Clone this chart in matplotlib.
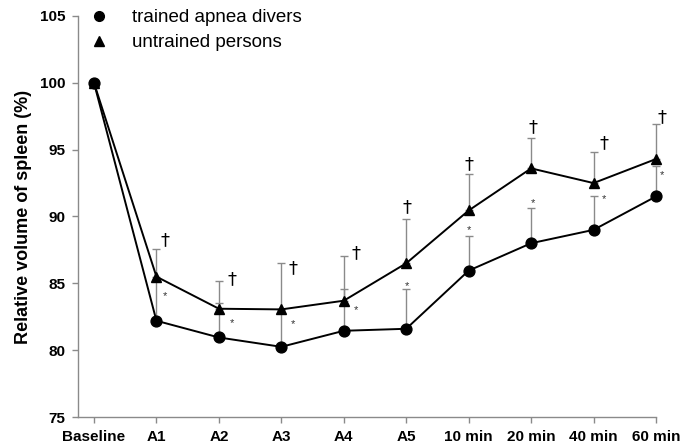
import numpy as np
import matplotlib
matplotlib.use("Agg")
import matplotlib.pyplot as plt
from matplotlib.lines import Line2D
from matplotlib.transforms import offset_copy

plt.rcParams['font.family'] = ['Liberation Sans', 'DejaVu Sans']

# dados
labels = ['Baseline', 'A1', 'A2', 'A3', 'A4', 'A5', '10 min', '20 min', '40 min', '60 min']
trained = [100, 82.2, 80.95, 80.25, 81.45, 81.6, 85.95, 88.0, 89.0, 91.5]
trained_err = [0, 3.1, 2.6, 2.75, 3.15, 3.0, 2.6, 2.6, 2.5, 2.3]
untrained = [100, 85.5, 83.1, 83.05, 83.7, 86.5, 90.45, 93.6, 92.5, 94.3]
untrained_err = [0, 2.05, 2.1, 3.45, 3.35, 3.35, 2.7, 2.3, 2.3, 2.6]

# marcas de significancia (posicao vertical)
dagger_y = [None, 88.2, 85.3, 86.1, 87.25, 90.7, 93.9, 96.7, 95.5, 97.45]
star_y = [None, 84.25, 82.25, 82.2, 83.25, 85.05, 89.2, 91.2, 91.5, 93.35]
mark_dx = [0, 9, 13, 12, 12, 1, 0, 2, 10, 6]  # deslocamento em px

x = np.arange(len(labels))

fig = plt.figure(figsize=(6.95, 4.48), dpi=100)
ax = fig.add_axes([78/695, 1 - 417/448, (656 - 78)/695, (417 - 16)/448])

grey = '#8a8a8a'
zero = np.zeros(len(x))

# barras de erro (so para cima)
ax.errorbar(x, untrained, yerr=[zero, untrained_err], fmt='none', ecolor=grey,
            elinewidth=1, capsize=3.2, capthick=1, zorder=1, clip_on=False)
ax.errorbar(x, trained, yerr=[zero, trained_err], fmt='none', ecolor=grey,
            elinewidth=1, capsize=3.2, capthick=1, zorder=1, clip_on=False)

ax.plot(x, untrained, color='black', lw=1.4, marker='^', ms=7.5, zorder=3, clip_on=False)
ax.plot(x, trained, color='black', lw=1.4, marker='o', ms=7.8, zorder=4, clip_on=False)

for i in x:
    if dagger_y[i] is None:
        continue
    tr = offset_copy(ax.transData, fig=fig, x=mark_dx[i], y=0, units='dots')
    ax.text(i, dagger_y[i], '\u2020', transform=tr, ha='center', va='center',
            fontsize=13, family=['DejaVu Sans'])
    ax.text(i, star_y[i], '*', transform=offset_copy(tr, fig=fig, x=0, y=-3, units='dots'),
            ha='center', va='center', fontsize=8, color='#333333')

ax.set_xlim(-0.256, 9.0)
ax.set_ylim(75, 105)
ax.set_yticks(np.arange(75, 106, 5))
ax.set_xticks(x)
ax.set_xticklabels(labels)

for s in ['top', 'right']:
    ax.spines[s].set_visible(False)
for s in ['left', 'bottom']:
    ax.spines[s].set_color(grey)
    ax.spines[s].set_linewidth(1)
ax.tick_params(direction='out', length=4, width=1, color=grey, pad=5)
for lab in ax.get_xticklabels() + ax.get_yticklabels():
    lab.set_fontsize(11)
    lab.set_fontweight('bold')

ax.set_ylabel('Relative volume of spleen (%)', fontsize=13, fontweight='bold', labelpad=6)

handles = [Line2D([], [], color='black', marker='o', ls='none', ms=7),
           Line2D([], [], color='black', marker='^', ls='none', ms=7)]
ax.legend(handles, ['trained apnea divers', 'untrained persons'], frameon=False,
          loc='upper left', bbox_to_anchor=(89/695, 1 - 9/448), bbox_transform=fig.transFigure,
          fontsize=13.5, handlelength=1.1, handletextpad=1.2, labelspacing=0.42,
          borderpad=0, borderaxespad=0)

fig.savefig('out.png', dpi=100)
